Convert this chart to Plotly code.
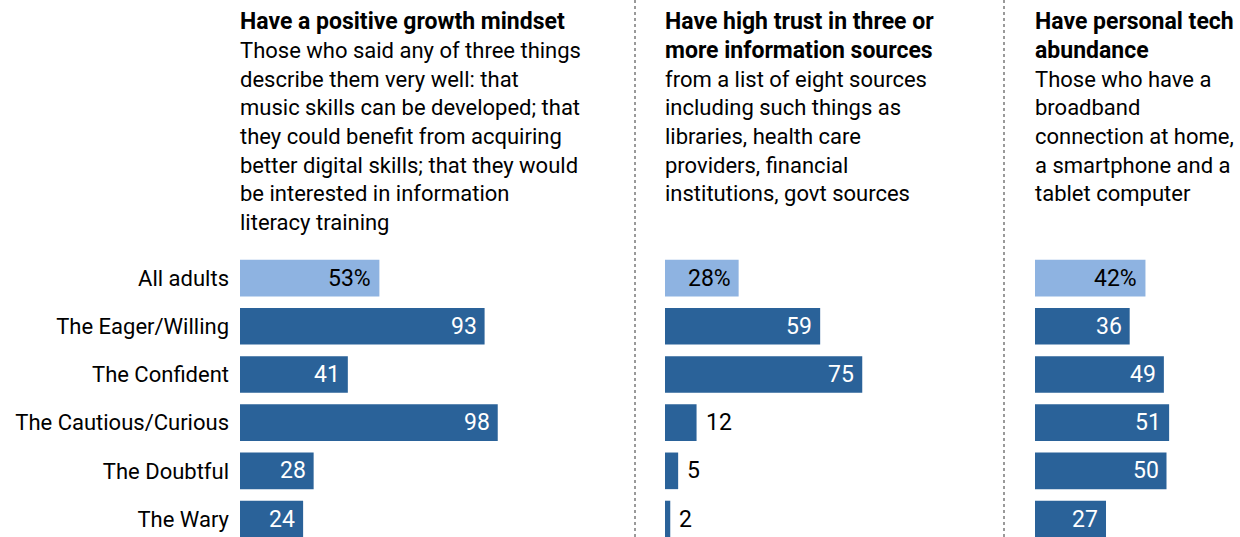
import plotly.graph_objects as go

W, H = 1240, 537

categories = ["All adults", "The Eager/Willing", "The Confident",
              "The Cautious/Curious", "The Doubtful", "The Wary"]

growth_mindset = [53, 93, 41, 98, 28, 24]
high_trust = [28, 59, 75, 12, 5, 2]
tech_abundance = [42, 36, 49, 51, 50, 27]

titles = [
    ["Have a positive growth mindset"],
    ["Have high trust in three or", "more information sources"],
    ["Have personal tech", "abundance"],
]
subtitles = [
    ["Those who said any of three things", "describe them very well: that",
     "music skills can be developed; that", "they could benefit from acquiring",
     "better digital skills; that they would", "be interested in information",
     "literacy training"],
    ["from a list of eight sources", "including such things as",
     "libraries, health care", "providers, financial",
     "institutions, govt sources"],
    ["Those who have a", "broadband", "connection at home,",
     "a smartphone and a", "tablet computer"],
]

DARK = "#2a6299"
LIGHT = "#8eb3e1"
FONT = "Roboto"
PX_PER_UNIT = 2.63

# panel left / right edges in pixels
panel_left = [240, 665, 1035]
panel_right = [620, 990, 1240]
divider_x = [635, 1004]

series = [growth_mindset, high_trust, tech_abundance]
axis_ids = ["x", "x2", "x3"]

fig = go.Figure()
annotations = []

for i, (vals, ax) in enumerate(zip(series, axis_ids)):
    colors = [LIGHT] + [DARK] * (len(vals) - 1)
    fig.add_trace(go.Bar(
        x=vals, y=categories, orientation="h",
        marker=dict(color=colors, line=dict(width=0)),
        width=0.76, xaxis=ax, yaxis="y",
        hoverinfo="skip", showlegend=False,
    ))
    for j, (cat, v) in enumerate(zip(categories, vals)):
        label = f"{v}%" if j == 0 else str(v)
        inside = v >= 20
        annotations.append(dict(
            x=v, y=cat, xref=ax, yref="y",
            text=label, showarrow=False,
            xanchor="right" if inside else "left",
            xshift=-6 if inside else 7,
            font=dict(family=FONT, size=23,
                      color=("#000000" if j == 0 or not inside else "#ffffff")),
        ))

LINE_H = 28.6
for i in range(3):
    x0 = panel_left[i] / W
    lines = [(t, True) for t in titles[i]] + [(t, False) for t in subtitles[i]]
    for k, (txt, bold) in enumerate(lines):
        yc = 22 + k * LINE_H
        annotations.append(dict(
            x=x0, y=1 - yc / H, xref="paper", yref="paper",
            xanchor="left", yanchor="middle", showarrow=False, xshift=-2,
            text=f"<b>{txt}</b>" if bold else txt,
            font=dict(family=FONT, size=23 if bold else 22, color="#000000"),
        ))

shapes = [dict(type="line", xref="paper", yref="paper",
               x0=dx / W, x1=dx / W, y0=0, y1=1,
               line=dict(color="#7a7a7a", width=1.5, dash="3px,3px"))
          for dx in divider_x]

layout = dict(
    width=W, height=H,
    margin=dict(l=0, r=0, t=0, b=0),
    paper_bgcolor="white", plot_bgcolor="white",
    annotations=annotations, shapes=shapes,
    yaxis=dict(
        type="category", categoryarray=categories,
        range=[5.373, -5.77], domain=[0, 1], anchor="x",
        showgrid=False, zeroline=False, showline=False,
        ticks="", ticklabelstandoff=10, automargin=False,
        tickfont=dict(family=FONT, size=22, color="#000000"),
    ),
)
for i, ax in enumerate(["xaxis", "xaxis2", "xaxis3"]):
    width_px = panel_right[i] - panel_left[i]
    layout[ax] = dict(
        domain=[panel_left[i] / W, panel_right[i] / W],
        range=[0, width_px / PX_PER_UNIT],
        anchor="y", visible=False, fixedrange=True,
    )

fig.update_layout(**layout)
fig.write_html("out.html")
